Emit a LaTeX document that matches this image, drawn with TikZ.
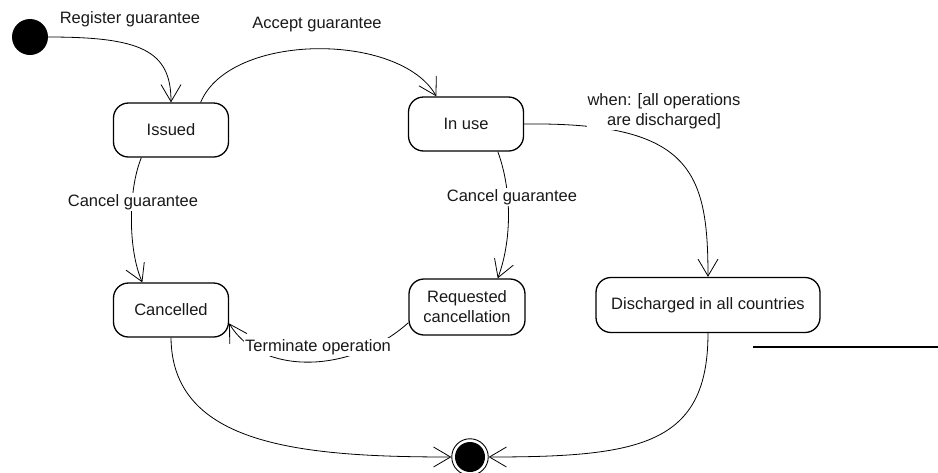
\documentclass[tikz,border=0pt]{standalone}
\usepackage{fontspec}
\setmainfont{Liberation Sans}
\usetikzlibrary{arrows.meta}
\begin{document}
\begin{tikzpicture}[x=1pt,y=-1pt,
  txt/.style={font=\fontsize{16.5}{20}\selectfont, text=black!90},
  state/.style={txt, draw, line width=1.3pt, rounded corners=15pt, minimum width=115pt, minimum height=54pt, inner sep=2pt, align=center},
  lbl/.style={txt, inner sep=1pt},
  lblw/.style={txt, fill=white, inner sep=1pt, align=center},
  arr/.style={line width=0.8pt, -{Straight Barb[length=17pt,width=20pt,line width=0.8pt]}},
  conn/.style={line width=0.8pt}]
\useasboundingbox (0,0) rectangle (938,472);
% states
\node[circle, fill=black, minimum size=36pt, inner sep=0pt] (start) at (30,37) {};
\node[state] (issued) at (171,130) {Issued};
\node[state] (inuse) at (466,124) {In use};
\node[state] (cancelled) at (171,310) {Cancelled};
\node[state, minimum width=116pt, minimum height=56pt] (req) at (467,307) {Requested\\cancellation};
\node[state, minimum width=224pt, minimum height=55pt] (dis) at (708,305) {Discharged in all countries};
\node[circle, draw, line width=0.9pt, minimum size=36.5pt, inner sep=0pt] (final) at (470,457) {};
\fill (final.center) circle (15);
% transitions
\draw[arr] (start.east) .. controls (140,37) and (171,50) .. (issued.north);
\node[lbl] (l1) at (130,19) {Register guarantee};
\draw[arr] (issued.43) .. controls (230,32) and (400,32) .. (inuse.137);
\node[lbl] (l2) at (317,25) {Accept guarantee};
\draw[arr] (issued.223) .. controls (128,190) and (128,250) .. (cancelled.136);
\node[lblw] (l3) at (133,202) {Cancel guarantee};
\draw[arr] (inuse.-41) .. controls (512,190) and (512,240) .. (req.43);
\node[lblw] (l4) at (512,197) {Cancel guarantee};
\draw[arr] (inuse.east) .. controls (690,122) and (708,170) .. (dis.north);
\node[lblw] (l5) at (664,111) {when: [all operations\\are discharged]};
\draw[arr] (req.195) .. controls (350,375) and (260,375) .. (cancelled.-13);
\node[lblw] (l6) at (318,347) {Terminate operation};
\draw[arr] (cancelled.south) .. controls (172,445) and (300,457) .. (final.west);
\draw[arr] (dis.south) .. controls (708,445) and (640,457) .. (final.east);
% stray line
\coordinate (la) at (753,347);
\coordinate (lb) at (938,347);
\draw[line width=1.5pt] (la) -- (lb);
\end{tikzpicture}
\end{document}
